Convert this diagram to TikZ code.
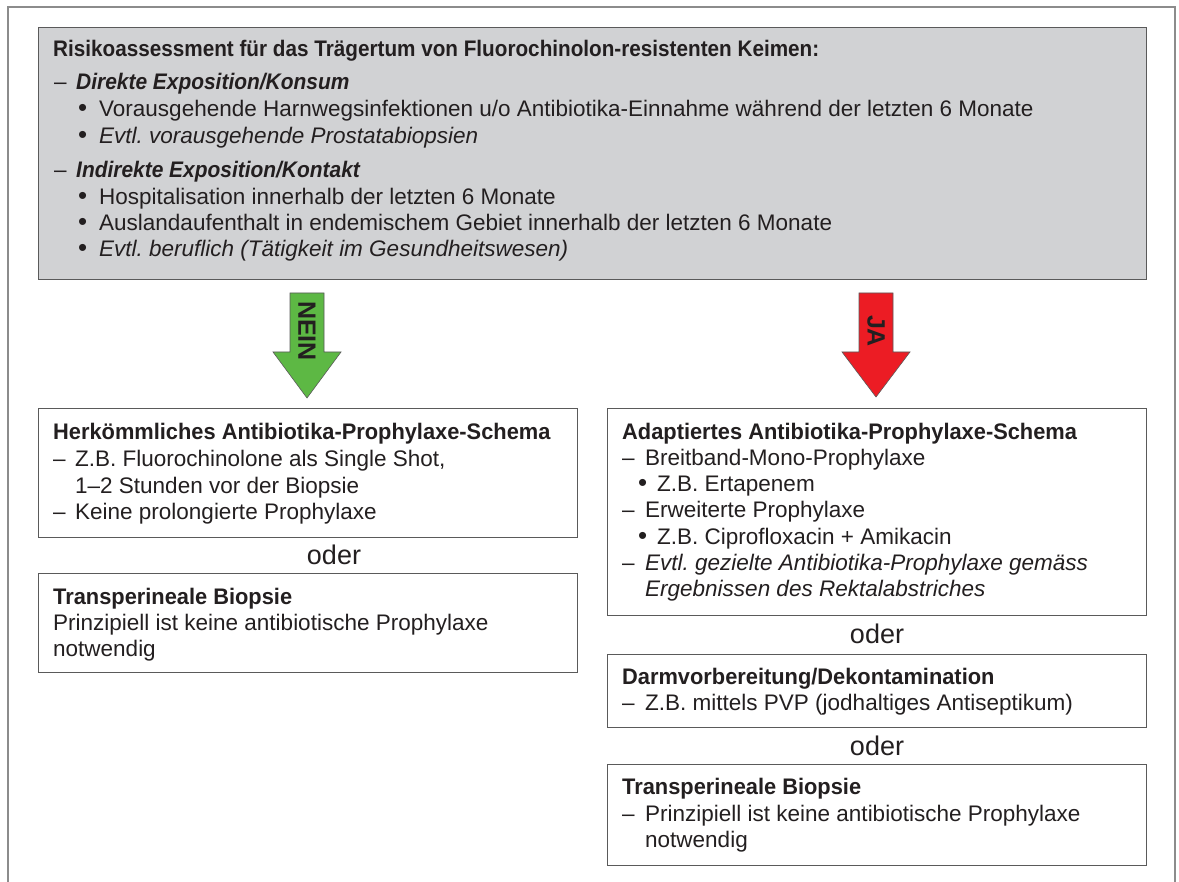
\documentclass[tikz,border=0pt]{standalone}
\usepackage{fontspec}
\setmainfont{Liberation Sans}
\usepackage{graphicx}
\frenchspacing
\definecolor{framegray}{HTML}{8C8C8C}
\definecolor{boxgray}{HTML}{D1D2D4}
\definecolor{edgegray}{HTML}{5A5A5A}
\definecolor{txtcol}{HTML}{231F20}
\definecolor{nogreen}{HTML}{5DB844}
\definecolor{yesred}{HTML}{EC1C24}
\newcommand\bodyfont{\fontsize{22.5}{26}\selectfont\frenchspacing}
\newcommand\bt[1]{\scalebox{0.92}[1]{\bfseries #1}}
\newcommand\bbt[1]{\scalebox{0.97}[1]{\bfseries #1}}
\newcommand\bit[1]{\scalebox{0.93}[1]{\bfseries\itshape #1}}
\newcommand\bul{\scalebox{1.15}{•}}
\begin{document}
\begin{tikzpicture}[x=1pt,y=-1pt,
  txt/.style={anchor=base west,inner sep=0pt,font=\bodyfont,text=txtcol},
  odertxt/.style={anchor=base,inner sep=0pt,font=\fontsize{27}{30}\selectfont,text=txtcol},
  panel/.style={draw=edgegray,line width=0.8pt,fill=white},
  greypanel/.style={draw=edgegray,line width=0.9pt,fill=boxgray},
  arrowlbl/.style={inner sep=0pt,font=\fontsize{25}{28}\selectfont\bfseries,text=txtcol}]
\useasboundingbox (0,0) rectangle (1179,882);
\fill[white] (0,0) rectangle (1179,882);
% outer frame (open at bottom)
\draw[framegray,line width=1.6pt] (8,890) -- (8,7) -- (1175,7) -- (1175,890);
% top grey box
\draw[greypanel] (38,27) rectangle (1146,279);
\node[txt] (t0) at (53,57) {\bt{Risikoassessment für das Trägertum von Fluorochinolon-resistenten Keimen:}};
\node[txt] (t1d) at (54,90) {–};
\node[txt] (t1) at (76,90) {\bit{Direkte Exposition/Konsum}};
\node[txt] (t2b) at (78,117) {\bul};
\node[txt] (t2) at (99,117) {Vorausgehende Harnwegsinfektionen u/o Antibiotika-Einnahme während der letzten 6 Monate};
\node[txt] (t3b) at (78,144) {\bul};
\node[txt] (t3) at (99,144) {\itshape Evtl. vorausgehende Prostatabiopsien};
\node[txt] (t4d) at (54,178) {–};
\node[txt] (t4) at (76,178) {\bit{Indirekte Exposition/Kontakt}};
\node[txt] (t5b) at (78,205) {\bul};
\node[txt] (t5) at (99,205) {Hospitalisation innerhalb der letzten 6 Monate};
\node[txt] (t6b) at (78,231) {\bul};
\node[txt] (t6) at (99,231) {Auslandaufenthalt in endemischem Gebiet innerhalb der letzten 6 Monate};
\node[txt] (t7b) at (78,257) {\bul};
\node[txt] (t7) at (99,257) {\itshape Evtl. beruflich (Tätigkeit im Gesundheitswesen)};
% arrows
\draw[fill=nogreen,draw=edgegray,line width=0.6pt] (290,293) -- (324,293) -- (324,352) -- (341,352) -- (307,398) -- (273,352) -- (290,352) -- cycle;
\node[arrowlbl,rotate=-90] (nein) at (307,331) {NEIN};
\draw[fill=yesred,draw=edgegray,line width=0.6pt] (859,293) -- (893,293) -- (893,352) -- (910,352) -- (876,397) -- (842,352) -- (859,352) -- cycle;
\node[arrowlbl,rotate=-90] (ja) at (876,331) {JA};
% left column
\draw[panel] (38,408) rectangle (577,537);
\node[txt] (l0) at (53,440) {\bbt{Herkömmliches Antibiotika-Prophylaxe-Schema}};
\node[txt] (l1d) at (53,467) {–};
\node[txt] (l1) at (75,467) {Z.B. Fluorochinolone als Single Shot,};
\node[txt] (l2) at (75,494) {1–2 Stunden vor der Biopsie};
\node[txt] (l3d) at (53,520) {–};
\node[txt] (l3) at (75,520) {Keine prolongierte Prophylaxe};
\node[odertxt] (o1) at (334,565) {oder};
\draw[panel] (38,573) rectangle (577,672);
\node[txt] (m0) at (53,604) {\bbt{Transperineale Biopsie}};
\node[txt] (m1) at (53,630) {Prinzipiell ist keine antibiotische Prophylaxe};
\node[txt] (m2) at (53,656) {notwendig};
% right column
\draw[panel] (607,408) rectangle (1146,615);
\node[txt] (r0) at (622,440) {\bbt{Adaptiertes Antibiotika-Prophylaxe-Schema}};
\node[txt] (r1d) at (622,466) {–};
\node[txt] (r1) at (645,466) {Breitband-Mono-Prophylaxe};
\node[txt] (r2b) at (638,492) {\bul};
\node[txt] (r2) at (657,492) {Z.B. Ertapenem};
\node[txt] (r3d) at (622,518) {–};
\node[txt] (r3) at (645,518) {Erweiterte Prophylaxe};
\node[txt] (r4b) at (638,544) {\bul};
\node[txt] (r4) at (657,544) {Z.B. Ciprofloxacin + Amikacin};
\node[txt] (r5d) at (622,571) {–};
\node[txt] (r5) at (645,571) {\itshape Evtl. gezielte Antibiotika-Prophylaxe gemäss};
\node[txt] (r6) at (645,597) {\itshape Ergebnissen des Rektalabstriches};
\node[odertxt] (o2) at (877,643) {oder};
\draw[panel] (607,654) rectangle (1146,727);
\node[txt] (s0) at (622,684) {\bbt{Darmvorbereitung/Dekontamination}};
\node[txt] (s1d) at (622,710) {–};
\node[txt] (s1) at (645,710) {Z.B. mittels PVP (jodhaltiges Antiseptikum)};
\node[odertxt] (o3) at (877,755) {oder};
\draw[panel] (607,764) rectangle (1146,865);
\node[txt] (u0) at (622,794) {\bbt{Transperineale Biopsie}};
\node[txt] (u1d) at (622,821) {–};
\node[txt] (u1) at (645,821) {Prinzipiell ist keine antibiotische Prophylaxe};
\node[txt] (u2) at (645,847) {notwendig};
\end{tikzpicture}
\end{document}
